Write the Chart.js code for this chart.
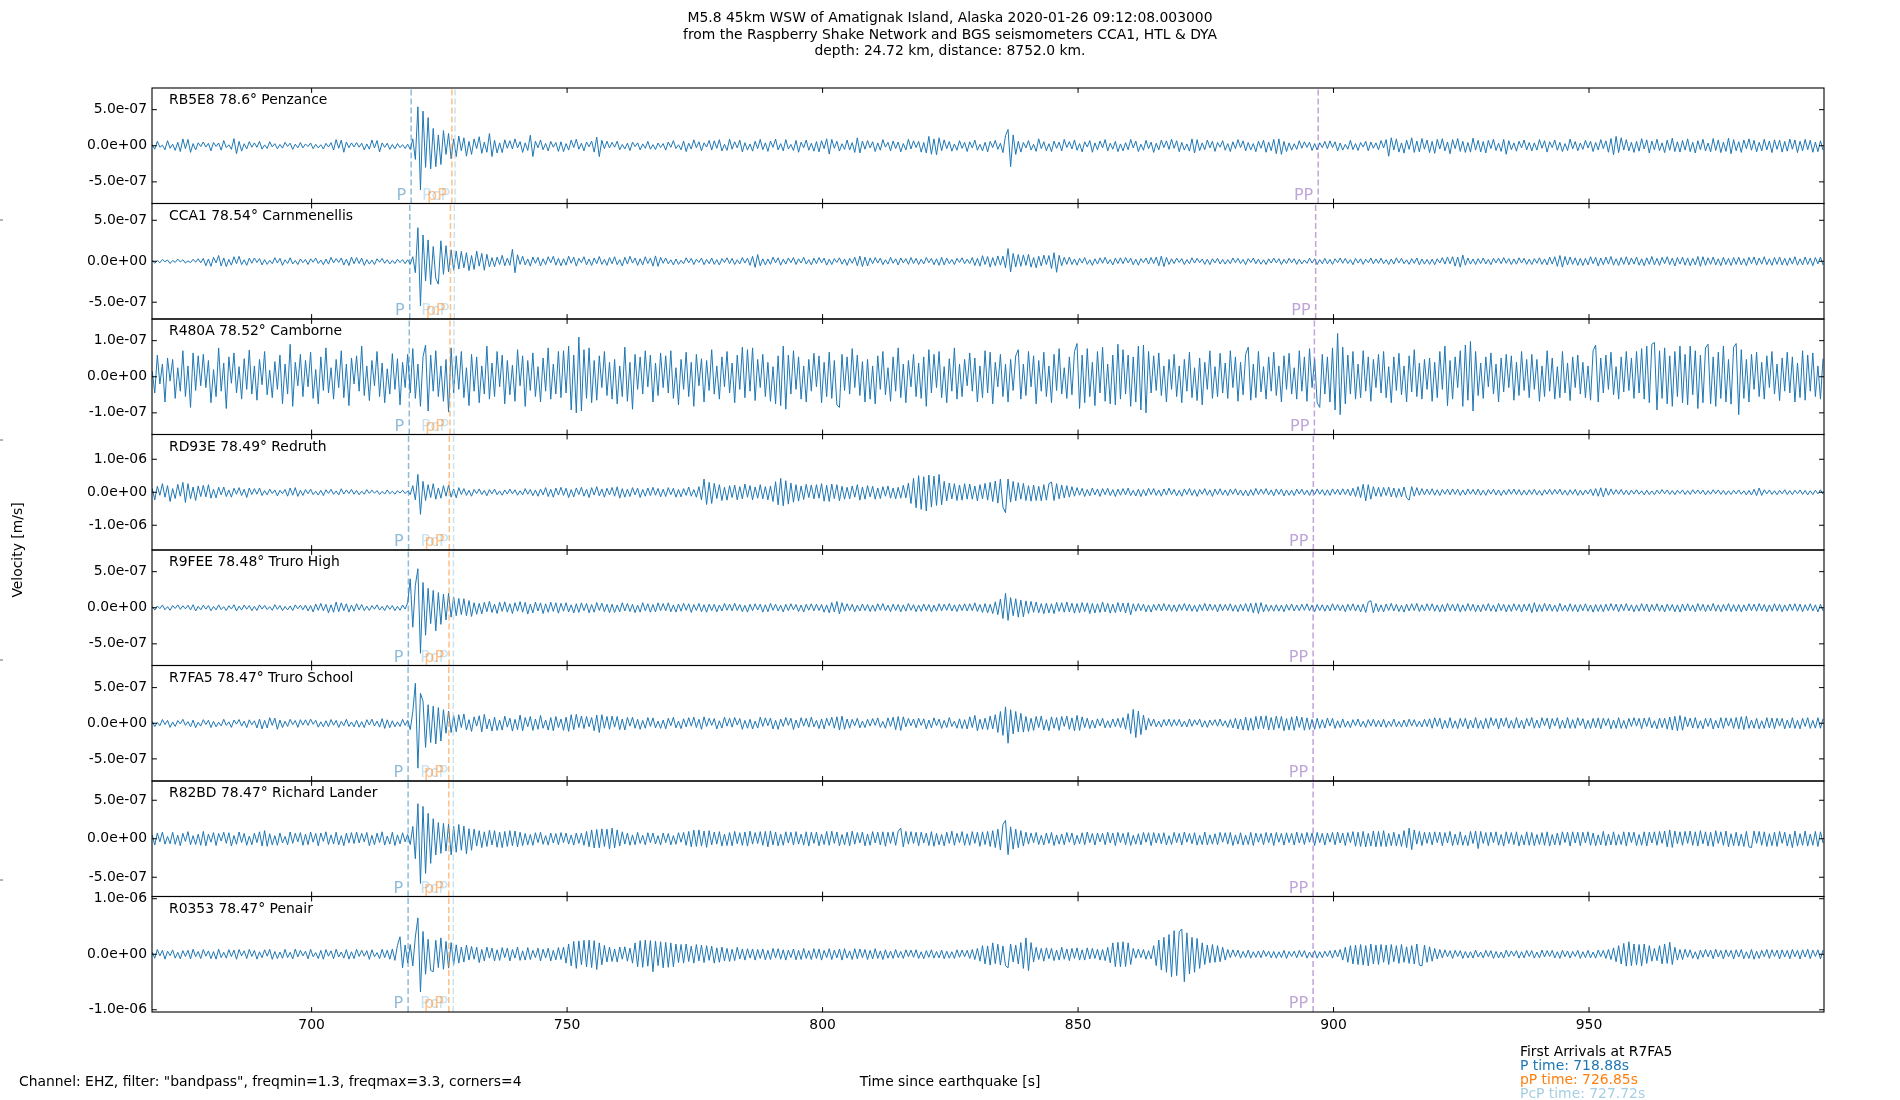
<!DOCTYPE html>
<html>
<head>
<meta charset="utf-8">
<script src="https://cdn.jsdelivr.net/npm/chart.js@4.4.1/dist/chart.umd.min.js"></script>
<style>
html,body{margin:0;padding:0;background:#fff;}
#wrap{position:relative;width:1900px;height:1100px;}
</style>
</head>
<body>
<div id="wrap"><canvas id="c" width="1900" height="1100"></canvas></div>
<script>
// ---------- data ----------
const stations = ['RB5E8 78.6° Penzance','CCA1 78.54° Carnmenellis','R480A 78.52° Camborne','RD93E 78.49° Redruth',
                  'R9FEE 78.48° Truro High','R7FA5 78.47° Truro School','R82BD 78.47° Richard Lander','R0353 78.47° Penair'];
// sampling of the traces: first sample time and step (s)
const t0 = 668.8, dt = 0.5;
// vertical velocity, in nm/s (1e-9 m/s)
const vRB5E8 = [
15,-48,62,-20,8,-55,70,-35,22,-64,48,-80,95,-40,88,-92,30,-58,41,-12,
52,-18,33,-70,45,-10,38,-61,72,-25,14,-50,98,-110,60,-75,28,-44,57,-21,
40,-22,61,-47,12,-38,55,-16,29,-42,18,-33,47,-9,36,-51,22,-28,44,-30,
25,-12,38,-41,20,-30,14,-45,33,-18,42,-60,85,-35,78,-90,52,-28,40,-17,
44,-20,36,-58,25,-47,80,-30,72,-85,40,-22,35,-50,18,-41,30,-26,15,-38,
22,-50,95,-190,540,-610,480,-300,390,-320,240,-290,150,-260,210,-120,170,-180,95,-150,
135,-70,110,-145,60,-120,95,-40,125,-105,50,-90,170,-150,75,-100,40,-95,82,-35,
70,-45,95,-30,58,-92,40,-66,145,-150,62,-28,80,-55,33,-72,60,-20,45,-78,
55,-82,30,-60,78,-25,90,-48,35,-70,52,-15,66,-88,120,-150,75,-40,62,-30,
48,-20,62,-55,18,-44,35,-67,50,-12,41,-58,26,-35,60,-48,15,-52,38,-25,
30,-61,52,-22,70,-38,14,-57,66,-80,35,-45,82,-28,55,-70,40,-18,73,-60,
68,-35,84,-72,20,-64,90,-48,55,-30,78,-85,42,-60,25,-75,62,-40,88,-55,
40,-78,65,-22,92,-58,30,-70,85,-45,18,-66,74,-90,50,-28,80,-62,35,-75,
58,-85,70,-40,96,-115,88,-35,62,-74,28,-50,80,-58,44,-92,110,-100,65,-48,
72,-30,55,-80,40,-62,85,-20,48,-70,66,-38,52,-84,30,-58,90,-45,68,-25,
60,-88,45,-100,130,-118,95,-125,110,-70,82,-40,58,-75,25,-62,70,-35,48,-80,
55,-30,78,-62,20,-70,48,-85,60,-25,74,-50,35,-95,140,225,-290,150,-120,60,
-88,45,-30,72,-60,20,-78,95,-40,55,-68,28,-82,64,-35,50,-72,88,-25,58,
-45,80,-62,30,-85,55,-18,72,-90,40,-55,66,-28,85,-70,35,-48,60,-82,25,
-70,42,-55,88,-30,65,-80,20,-62,75,-40,50,-92,35,-58,78,-25,68,-50,90,
-35,70,-82,48,-60,25,-75,95,-100,85,-68,40,-55,80,-30,62,-78,45,-20,70,
-62,30,-80,55,-40,85,-25,68,-72,45,-58,30,-82,62,-35,75,-90,50,-68,88,
-110,95,-120,60,-80,40,-62,28,-50,70,-35,55,-22,48,-66,30,-58,42,-25,60,
-40,68,-25,55,-72,38,-60,20,-48,75,-55,30,-66,45,-18,62,-70,52,-35,40,
-55,72,-30,85,-145,110,-60,95,-88,40,-102,78,-50,110,-92,65,-85,100,-48,80,
-95,60,-105,88,-45,98,-70,52,-110,85,-40,100,-78,62,-92,45,-88,105,-60,75,
-85,58,-100,75,-40,90,-65,35,-78,88,-118,70,-55,40,-75,62,-30,80,-58,45,
-72,40,-60,85,-35,70,-88,55,-25,78,-62,48,-80,30,-66,92,-45,58,-70,38,
-50,75,-30,62,-80,45,-58,85,-40,68,-90,100,-125,130,-95,110,-60,85,-72,48,
-92,60,-75,98,-45,82,-100,65,-58,90,-70,40,-95,78,-62,105,-80,55,-88,72,
-60,95,-82,48,-100,70,-55,90,-72,38,-85,100,-65,80,-95,50,-78,105,-110,85,
-70,55,-92,80,-40,95,-62,75,-85,48,-72,90,-58,66,-95,82,-50,78,-88,60,
-75,92,-48,80,-95,62,-70,88,-55,75,-90,50,-82,68,-60];
const vCCA1 = [
12,-25,8,-18,22,-6,15,-28,10,-14,26,-9,18,-22,5,-16,24,-12,30,-20,
35,-55,28,-62,48,-20,70,-58,40,-65,22,-48,55,-30,60,-42,18,-50,38,-25,
40,-15,32,-45,20,-38,12,-30,44,-22,35,-50,18,-27,42,-34,10,-40,28,-18,
22,-40,30,-12,38,-28,15,-42,26,-35,48,-20,32,-15,40,-46,25,-52,50,-30,
45,-28,38,-50,20,-35,16,-40,30,-12,34,-25,18,-32,10,-28,24,-15,20,-30,
18,-35,55,-140,410,-545,320,-240,260,-285,180,-210,-280,250,-160,190,-130,140,-110,125,
-95,120,-80,105,-115,70,-100,125,-60,95,-110,85,-70,45,-68,50,-40,72,-55,38,
-50,145,-140,80,-38,62,-45,28,-60,52,-25,48,-58,30,-42,55,-20,60,-48,35,
-55,30,-48,62,-25,50,-60,35,-18,55,-45,28,-52,40,-30,58,-38,22,-50,45,
-30,55,-42,20,-58,48,-35,60,-22,40,-50,30,-45,55,-28,38,-60,65,-62,48,
-25,40,-32,18,-45,28,-38,12,-30,42,-20,35,-40,25,-15,38,-42,22,-30,40,
-38,20,-45,32,-15,42,-28,35,-40,18,-32,45,-22,38,-50,60,-75,82,-55,30,
-45,28,-38,50,-20,42,-48,25,-35,40,-18,45,-40,30,-22,48,-35,20,-44,38,
-30,45,-20,38,-48,25,-40,32,-15,42,-36,28,-50,35,-25,48,-55,62,-65,50,
-58,40,-30,45,-22,38,-42,18,-35,48,-25,30,-46,40,-20,32,-38,45,-28,35,
-40,25,-32,45,-18,35,-42,30,-50,48,-45,38,-30,22,-40,35,-15,42,-30,25,
-28,45,-52,35,-60,68,-40,58,-72,45,-55,65,-48,62,-80,155,-130,95,-70,82,
-62,78,-50,85,-72,45,-80,62,-58,75,-40,70,-90,105,-135,72,-55,48,-38,52,
-40,28,-48,35,-22,45,-38,18,-50,30,-35,42,-25,48,-32,20,-45,38,-28,42,
-30,45,-20,38,-42,25,-48,32,-18,40,-35,45,-28,50,-55,62,-65,48,-40,30,
-28,38,-15,32,-40,20,-30,42,-22,35,-18,28,-38,25,-42,30,-20,36,-32,22,
-35,20,-30,40,-18,35,-28,22,-42,32,-15,38,-30,25,-36,18,-40,30,-22,38,
-20,32,-40,22,-28,36,-18,30,-38,25,-32,15,-26,38,-22,30,-40,20,-30,35,
-32,22,-38,30,-18,40,-25,35,-28,20,-42,35,-22,30,-38,25,-18,40,-32,28,
-25,38,-30,20,-40,28,-35,42,-22,36,-30,18,-38,32,-26,40,-44,28,-35,22,
-38,25,-42,30,-22,45,-35,50,-30,55,-60,52,-72,75,-48,40,-35,28,-40,32,
-28,40,-32,22,-42,35,-20,38,-30,45,-25,32,-40,28,-36,42,-22,35,-38,25,
-40,32,-25,42,-38,28,-45,50,-35,55,-62,70,-72,58,-45,52,-38,42,-50,35,
-52,35,-45,55,-30,48,-58,40,-42,50,-35,58,-48,30,-52,45,-38,55,-44,40,
-35,52,-48,30,-55,42,-38,58,-45,35,-50,48,-30,55,-42,38,-58,45,-35,50,
-48,40,-55,35,-45,58,-62,55,-50,42,-38,52,-45,30,-55,48,-40,35,-52,45,
-38,50,-45,32,-55,48,-30,52,-48,40,-35,55,-42,30,-50,45,-38,52,-45,35,
-50,42,-35,55,-48,30,-45,52,-40,38,-55,45,-32,50,-45];
const vR480A = [
15,-45,60,-20,35,-70,52,-12,48,-60,25,-40,72,-55,30,-85,66,-38,58,-25,
62,-30,45,-72,20,-55,80,-40,38,-88,55,-18,66,-45,28,-62,50,-35,74,-48,
30,-65,48,-22,70,-50,18,-58,42,-35,60,-75,35,-48,90,-82,40,-25,62,-55,
45,-28,68,-60,20,-75,55,-38,80,-45,25,-62,48,-30,72,-58,35,-80,52,-20,
58,-40,85,-52,30,-66,45,-25,70,-55,38,-72,22,-48,64,-35,50,-78,40,-30,
62,-45,78,-60,35,-82,55,88,-95,60,-40,72,-55,30,-68,48,-98,80,-45,58,
-35,70,-58,25,-80,62,-40,55,-72,30,-48,85,-62,38,-55,70,-28,60,-75,45,
-50,32,-68,75,-25,58,-82,45,-38,66,-55,28,-70,52,-40,80,-62,35,-48,70,
-58,72,-45,85,-92,60,-100,110,-95,75,-60,80,-72,45,-65,58,-30,70,-52,40,
-62,48,-75,30,-55,82,-68,40,-90,62,-35,55,-48,72,-28,60,-70,38,-52,66,
-30,58,-45,72,-60,25,-78,48,-35,68,-55,40,-82,62,-25,50,-70,45,-38,75,
-48,30,-62,55,-28,70,-45,38,-72,60,-35,82,-58,75,-40,80,-66,48,-30,62,
-55,40,-68,28,-75,58,-80,85,-90,60,-48,72,-35,55,-62,30,-70,48,-40,65,
-28,58,-72,40,-55,68,-60,45,-78,-85,62,-38,55,-48,78,-30,60,-52,42,-70,
48,-62,30,-75,58,-35,70,-50,25,-68,55,-40,80,-58,35,-72,45,-28,62,-55,
38,-60,55,-82,75,-45,62,-30,70,-58,28,-72,50,-40,80,-62,35,-55,48,-25,
66,-40,52,-70,30,-58,72,-45,68,-75,40,-28,62,-55,35,-70,48,-38,58,75,
-62,35,-52,70,-28,58,-75,45,-40,68,-55,30,-72,62,-38,78,-48,25,-60,55,
-50,70,92,-88,60,-72,78,-55,40,-80,70,-45,82,-68,35,-75,60,-78,90,-62,
75,-48,60,-82,55,-70,85,-92,88,-100,70,-45,58,-38,66,-52,30,-70,48,-35,
62,-55,30,-72,48,-40,68,-58,25,-66,52,-78,40,-35,72,-60,28,-55,65,-45,
38,-60,72,-30,55,-68,40,-50,62,82,-65,35,-58,70,-42,28,-62,55,-40,68,
-52,30,-70,58,-35,65,-48,25,-62,72,-40,55,-68,78,-30,50,-72,-85,62,-48,
55,-70,80,-92,120,-105,82,-75,60,-48,70,-62,35,-58,72,-40,55,-68,48,-30,
62,-45,70,-58,28,-72,55,-38,65,-50,30,-70,58,-42,75,-55,38,-62,48,-35,
52,-68,40,-58,70,-35,85,-80,45,-62,55,-30,72,-82,88,-65,98,-95,70,-52,
38,-60,55,-28,66,-48,35,-70,52,-42,62,-30,58,-65,40,-52,70,-38,48,-58,
62,-35,48,-68,30,-55,72,-40,52,-62,28,-58,70,-45,38,-66,55,-30,60,-48,
40,-58,30,-65,72,88,-70,52,-45,60,-35,68,-50,28,-62,55,-42,70,-38,52,
-60,70,-45,78,-62,85,-72,90,95,-92,72,-60,80,-75,58,-82,70,-55,85,-72,
62,-78,85,-50,72,-88,60,-72,80,90,-75,55,-82,68,-60,85,-70,48,-76,82,
92,-105,75,-60,48,-70,62,-35,68,-55,40,-62,58,-30,70,-48,35,-66,52,-40,
68,-45,55,-70,38,-58,72,-65,60,-40,66,-55,30,-62,50];
const vRD93E = [
120,-230,180,-90,260,-150,200,-280,110,-190,240,-120,300,-310,260,-200,160,-250,190,-130,
210,-140,230,-180,90,-170,150,-80,160,-130,70,-150,120,-60,140,-100,90,-160,130,-70,
110,-60,130,-100,50,-80,95,-40,70,-110,60,-45,85,-120,130,-90,140,-125,60,-95,
80,-45,95,-70,30,-85,60,-100,75,-35,90,-65,40,-80,105,-55,70,-40,85,-60,
55,-75,35,-60,80,-40,65,-30,50,-70,25,-55,70,-45,30,-60,45,-25,60,-40,
40,-70,200,-230,540,-670,330,-250,230,-160,260,-210,130,-180,200,-120,210,-150,100,-170,
140,-70,110,-95,60,-120,85,-40,100,-70,55,-105,80,-50,95,-75,40,-90,70,-55,
95,-50,75,-90,45,-80,110,-60,85,-105,70,-120,95,-80,140,-130,90,-150,125,-85,
150,-95,120,-160,80,-140,130,-70,150,-120,90,-160,140,-85,170,-110,100,-150,120,-80,
145,-120,165,-180,110,-150,95,-130,140,-80,125,-160,85,-120,130,-100,150,-90,115,-140,
90,-130,140,-75,120,-150,85,-140,110,-95,160,-120,80,-150,170,-230,400,-370,300,-340,
270,-190,230,-250,150,-240,200,-160,220,-230,170,-200,250,-150,200,-230,160,-180,230,-200,
170,-230,190,-280,320,-380,420,-410,350,-360,280,-300,230,-270,190,-220,240,-160,220,-200,
230,-180,260,-270,210,-280,250,-190,230,-260,180,-210,150,-200,190,-150,230,-240,160,-210,
200,-140,180,-210,130,-190,170,-120,190,-180,130,-200,150,-180,210,-170,280,-340,420,-470,
500,-520,470,-570,520,-450,490,-400,540,-380,330,-260,280,-200,260,-250,220,-240,260,-210,
250,-210,190,-260,230,-200,270,-240,300,-280,340,-330,400,-450,-620,400,-300,330,-260,290,
-210,270,-250,200,-270,220,-250,180,-260,230,-240,260,310,-250,260,-200,220,-170,200,-150,
170,-120,140,-90,120,-130,85,-110,130,-80,100,-125,110,-75,120,-100,80,-130,95,-90,
110,-80,125,-100,60,-115,95,-130,80,-105,120,-70,110,-95,70,-120,100,-85,125,-70,
85,-110,60,-120,100,-70,115,-95,75,-125,85,-60,110,-90,70,-125,95,-70,105,-85,
70,-100,90,-60,105,-85,70,-100,60,-110,80,-95,115,-70,95,-60,110,-80,70,-105,
100,-65,95,-110,70,-90,60,-100,95,-55,90,-80,60,-95,85,-70,100,-60,80,-95,
75,-95,100,-60,90,-80,105,-70,95,-110,120,-130,170,-160,240,-260,230,-210,170,-120,
150,-130,145,-100,155,-140,130,-160,110,-140,160,-170,-240,170,-120,140,-90,110,-80,95,
-70,105,-90,75,-100,85,-60,95,-80,100,-65,90,-95,70,-85,100,-60,85,-75,95,
-90,60,-95,80,-55,90,-85,70,-100,65,-75,90,-60,95,-70,80,-90,60,-85,75,
-65,90,-80,55,-95,75,-60,90,-70,85,-55,95,-80,60,-90,75,-65,85,-95,60,
-85,70,-55,95,-100,110,-120,135,-140,120,-90,100,-70,80,-60,85,-75,60,-80,65,
-55,75,-60,45,-80,60,-70,40,-75,65,-50,80,-45,70,-65,50,-75,60,-40,70,
-70,50,-65,75,-45,70,-55,65,-80,50,-60,75,-45,70,-65,55,-75,45,-70,60,
-50,70,-60,45,-80,55,-85,90,-100,130,-95,75,-50,70,-65,45,-75,60,-50,75,
-65,50,-75,60,-45,70,-65,55,-80,45,-70,60,-50,75,-60];
const vR9FEE = [
18,-32,25,-12,38,-28,15,-35,30,-10,40,-22,28,-15,35,-30,42,-45,20,-28,
35,-20,30,-42,18,-30,40,-25,15,-38,28,-18,42,-45,22,-32,38,-20,30,-40,
20,-38,40,-18,32,-25,15,-35,42,-22,30,-40,18,-30,25,-38,40,-15,35,-28,
38,-45,30,-58,52,-35,60,-42,48,-70,40,-62,80,-55,68,-40,55,-60,38,-48,
55,-30,45,-40,22,-38,30,-20,40,-32,18,-38,35,-22,30,-40,20,-35,38,-18,
70,400,-270,310,540,-630,350,-380,270,-220,240,-320,210,-230,190,-170,200,-130,150,-110,
130,-95,125,-110,100,-120,70,-90,60,-85,75,-55,90,-65,50,-80,75,-50,82,-60,
55,-80,70,-48,85,-62,75,-88,50,-72,78,-45,68,-80,55,-62,78,-50,70,-75,
62,-48,70,-58,40,-72,55,-65,68,-40,60,-70,45,-62,72,-38,65,-55,48,-68,
50,-65,38,-58,70,-45,60,-52,48,-68,35,-60,70,-42,55,-62,45,-58,68,-40,
58,-42,68,-55,40,-60,52,-48,62,-35,55,-65,45,-38,60,-55,42,-62,50,-40,
48,-58,38,-45,60,-35,50,-42,62,-38,45,-55,35,-60,48,-40,55,-32,50,-60,
42,-55,60,-35,50,-45,35,-58,48,-40,55,-30,45,-52,38,-60,48,-35,55,-42,
50,-38,45,-62,40,-70,72,-58,88,-85,70,-48,55,-40,48,-55,35,-45,52,-38,
45,-52,38,-48,55,-35,58,-42,35,-55,50,-38,45,-58,40,-48,60,-35,42,-55,
38,-50,52,-40,45,-60,35,-48,55,-42,50,-35,58,-45,40,-52,48,-38,55,-45,
55,-40,68,-52,45,-65,58,-72,48,-80,82,-95,120,-150,200,-175,140,-110,125,-130,
105,-125,95,-80,88,-62,80,-70,58,-82,65,-72,55,-80,75,-50,70,-62,80,-58,
62,-75,58,-68,72,-55,68,-80,60,-72,55,-65,80,-58,62,-75,50,-68,72,-55,
65,-72,68,-98,55,-48,58,-40,50,-55,38,-60,45,-35,52,-45,58,-40,45,-50,
40,-55,48,-35,58,-42,50,-48,35,-55,45,-38,60,-45,52,-35,42,-58,50,-40,
45,-38,55,-48,40,-55,48,-42,58,-52,62,-70,68,-80,72,-58,45,-50,35,-48,
42,-48,38,-55,45,-35,52,-45,38,-42,48,-35,55,-42,38,-55,45,-38,42,-48,
38,-45,55,-35,45,-42,40,-55,48,-38,55,-45,40,-58,50,-65,80,98,-72,60,
-55,40,-58,52,-38,60,-45,48,-52,35,-60,50,-45,55,-38,60,-52,40,-45,55,
-40,55,-48,38,-58,45,-52,60,-38,50,-45,55,-60,40,-48,58,-42,48,-55,38,
-55,45,-40,58,-48,38,-55,60,-40,48,-58,42,-50,55,-38,45,-60,50,-42,55,
-72,70,-58,45,-50,60,-42,52,-48,38,-55,60,-45,35,-50,55,-48,42,-58,45,
-40,55,-48,38,-60,45,-50,42,-55,50,-45,58,-38,50,-55,48,-40,58,-45,40,
-55,40,-48,58,-42,52,-58,45,-40,55,-48,38,-58,50,-40,45,-55,40,-60,52,
-42,55,-45,38,-55,58,-40,48,-52,40,-45,60,-48,40,-55,45,-40,58,-52,42,
-50,45,-58,40,-45,55,-40,50,-48,58,-42,45,-55,40,-50,55,-42,48,-55,40,
-45,52,-38,55,-48,50,-55,42,-40,55,-45,40,-58,48,-42];
const vR7FA5 = [
25,-48,12,-35,52,-20,40,-58,18,-45,38,-10,55,-30,22,-50,44,-62,15,-40,
50,-18,42,-60,28,-50,15,-38,55,-30,20,-58,45,-12,52,-40,30,-62,48,-22,
35,-66,58,-80,40,-65,78,-30,72,-85,45,-60,28,-45,55,-20,38,-58,50,-25,
48,-30,58,-15,42,-55,20,-50,35,-48,52,-28,40,-58,25,-35,55,-45,18,-50,
40,-55,22,-60,50,-25,58,-40,30,-55,65,-72,48,-62,35,-50,20,-45,55,-30,
40,-90,160,560,-630,420,310,-340,260,-270,240,-290,220,-250,190,-140,170,-130,110,-120,
120,-60,130,-95,50,-115,90,-40,105,-120,125,-80,60,-110,85,-100,45,-95,100,-55,
70,-110,55,-90,115,-105,80,-50,95,-100,60,-85,110,-70,45,-95,80,-105,95,-60,
60,-100,85,-115,120,-90,125,-60,100,-75,95,-50,80,-105,115,-130,120,-70,95,-85,
100,-55,95,-90,60,-95,80,-40,85,-70,55,-85,40,-70,80,-45,75,-65,30,-72,
45,-78,70,-35,82,-65,30,-75,62,-50,78,-40,85,-60,55,-85,90,-45,70,-30,
65,-80,35,-68,85,-40,70,-55,80,-25,65,-85,40,-70,55,-80,30,-68,85,-45,
75,-35,72,-80,40,-85,60,-45,80,-30,70,-88,45,-65,78,-40,68,-55,85,-50,
40,-75,60,-80,70,-35,85,-70,90,-95,100,-85,60,-70,55,-35,70,-65,30,-60,
55,-40,65,-30,75,-58,25,-70,75,-45,85,-90,95,-100,90,-50,68,-35,60,-62,
70,-30,62,-80,45,-65,75,-35,58,-72,40,-60,80,-45,30,-70,62,-75,50,-80,
90,-60,110,-105,55,-85,70,-90,100,-80,120,-130,165,-170,230,-280,190,-150,165,-120,
140,-125,95,-115,70,-100,95,-60,100,-95,50,-105,90,-70,80,-100,95,-45,100,-85,
75,-105,110,-100,90,-60,70,-75,45,-68,62,-40,70,-65,35,-62,60,-48,68,-60,
80,-85,135,-145,195,-200,170,-160,115,-95,70,-40,58,-50,30,-55,52,-38,58,-45,
50,-35,55,-50,30,-52,60,-42,48,-25,58,-55,35,-58,45,-30,50,-42,60,-40,
35,-58,52,-65,70,-80,60,-95,85,-100,70,-98,95,-80,100,-75,105,-95,80,-90,
100,-70,95,-105,65,-95,90,-100,98,-60,85,-98,75,-88,55,-85,70,-72,50,-68,
72,-40,68,-72,35,-62,60,-55,30,-62,50,-35,60,-52,28,-58,52,-40,55,-48,
40,-52,55,-58,30,-45,58,-50,25,-55,45,-52,58,-38,50,-48,30,-52,55,-45,
62,-70,78,-45,72,-80,40,-68,78,-70,35,-75,68,-48,70,-78,45,-65,80,-72,
40,-78,68,-72,80,-35,65,-80,72,-45,78,-70,38,-72,80,-65,42,-78,68,-40,
80,-70,45,-68,78,-35,72,-80,66,-40,78,-75,42,-68,80,-72,50,-70,78,-35,
65,-80,40,-72,68,-62,75,-78,70,-35,68,-80,45,-70,78,-72,40,-75,68,-45,
78,-40,68,-78,72,-45,80,-65,35,-78,72,-60,70,-82,88,-95,98,-105,108,-98,
90,-50,72,-68,80,-72,35,-78,68,-45,72,-80,40,-68,78,-72,75,-40,68,-72,
80,-78,92,-88,98,-72,45,-70,68,-78,35,-72,78,-66,72,-78,70,-40,68,-78,
45,-68,78,-72,40,-78,68,-45,78,-72,40,-68,78,-70,62];
const vR82BD = [
50,-82,75,-40,88,-70,30,-65,85,-72,45,-90,70,-35,92,-78,40,-75,60,-85,
95,-92,60,-45,80,-88,70,-30,85,-60,78,-95,42,-72,88,-50,70,-85,35,-78,
72,-50,90,-95,105,-98,65,-80,40,-85,75,-55,30,-78,88,-60,72,-40,80,-85,
60,-78,88,-45,70,-92,75,-35,90,-75,50,-68,85,-80,40,-90,72,-55,80,-62,
88,-55,70,-40,82,-90,45,-78,72,-50,90,-82,35,-70,85,-88,50,-65,78,-40,
55,-75,160,-260,455,-580,420,-450,330,-320,260,-210,210,-190,200,-160,190,-210,160,-175,
185,-150,165,-195,130,-150,125,-95,105,-115,90,-100,110,-80,105,-110,85,-115,95,-100,
105,-90,100,-105,85,-90,70,-80,55,-85,78,-50,85,-72,40,-82,75,-55,68,-78,
80,-50,75,-70,48,-82,75,-60,72,-85,95,-105,115,-120,120,-118,128,-100,125,-132,
138,-118,115,-95,90,-70,75,-85,50,-78,82,-60,45,-80,78,-50,75,-68,40,-82,
75,-50,68,-80,40,-72,78,-45,82,-85,95,-105,112,-100,115,-95,100,-112,105,-80,
88,-70,92,-95,60,-88,80,-92,95,-65,78,-85,88,-95,98,-70,80,-62,92,-85,
95,-105,102,-80,88,-92,60,-85,90,-55,85,-80,92,-70,60,-82,90,-95,85,-60,
88,-92,60,-75,95,-85,98,-60,88,-92,55,-80,85,-92,98,-70,80,-55,88,-92,
62,-85,92,-55,85,-80,90,-98,85,-60,90,-85,98,138,-105,95,-70,92,-60,85,
-92,85,-55,75,-88,92,-98,70,-80,55,-92,85,-60,98,-85,72,-50,92,-85,65,
-85,92,-60,85,-98,90,-75,95,-100,105,-115,125,-145,185,238,-205,155,-135,125,-115,
105,-95,85,-70,75,-50,82,-75,45,-80,75,-60,82,-88,50,-70,62,-78,82,-45,
75,-82,45,-65,78,-80,88,-50,70,-82,75,-40,70,-78,85,-55,75,-88,82,-50,
70,-78,82,-88,45,-70,65,-80,82,-45,78,-88,80,-55,70,-65,78,-82,40,-75,
82,-50,70,-82,88,-45,70,-65,78,-82,45,-75,88,-80,50,-70,65,-78,82,-45,
78,-70,82,-88,50,-70,78,-82,45,-75,82,-88,75,-45,65,-78,82,-50,75,-88,
82,-45,70,-82,78,-50,70,-82,88,-55,70,-75,82,-45,75,-88,82,-50,70,-82,
75,-45,82,-78,88,-55,75,-88,80,-50,92,-98,85,-100,95,-105,70,-95,100,-105,
95,-100,105,-102,70,-90,85,-95,60,-100,105,-115,138,-142,115,-70,95,-88,85,-60,
85,-80,90,-50,85,-90,80,-55,95,-90,60,-80,90,-85,45,-90,95,-62,100,-128,
95,-60,80,-90,85,-50,90,-85,55,-95,90,-62,80,-75,90,-95,50,-80,90,-85,
80,-90,55,-75,80,-85,90,-95,55,-80,75,-85,90,-50,85,-95,90,-55,85,-90,
85,-55,90,-85,75,-90,50,-80,95,-90,60,-80,90,-85,55,-75,90,-95,85,-50,
85,-90,55,-85,90,-95,85,-55,90,-85,95,-60,100,-105,115,-112,100,-65,90,-85,
95,-60,100,-85,90,-95,105,-65,90,-95,85,-100,105,-60,90,-85,100,-105,65,-90,
85,-95,60,-100,95,-105,-115,100,-60,95,-85,90,-100,65,-90,85,-100,95,-60,85,
-95,60,-115,100,-95,65,-85,100,-95,60,-85,95,-100,90,-55];
const vR0353 = [
40,-72,85,-30,70,-88,55,-25,78,-70,35,-82,65,-40,72,-85,90,-45,50,-78,
85,-35,60,-80,48,-88,92,-60,35,-70,82,-42,75,-90,85,-30,62,-78,88,-40,
70,-88,45,-62,80,-35,88,-92,50,-78,40,-72,88,-60,35,-85,92,-48,72,-30,
55,-82,88,-45,30,-78,70,-90,85,-35,62,-80,90,-50,40,-70,82,-88,45,-78,
88,-40,72,-35,65,-92,80,-45,30,-78,88,-60,72,-90,95,-110,160,315,-245,165,
-155,175,-210,310,655,-680,410,-360,270,-290,-315,250,-240,295,-270,230,-250,210,-190,170,
-160,130,-140,165,-105,140,-90,130,-150,85,-120,130,-70,110,-120,80,-110,120,-60,110,
-120,85,-70,130,-110,60,-105,120,-95,70,-60,110,-120,90,-65,110,-120,70,-100,120,
-95,130,-160,185,-210,230,-255,240,-190,250,-230,255,-240,245,-275,205,-190,160,-140,130,
-130,95,-140,130,-90,135,-125,110,-160,205,-225,245,-235,255,-215,245,-315,235,-205,225,
-245,215,-235,205,-225,185,-150,175,-160,185,-130,145,-160,175,-120,165,-150,155,-110,145,
-160,115,-145,130,-120,105,-130,90,-115,125,-85,95,-105,100,-70,95,-105,85,-75,95,
-100,70,-95,105,-65,100,-90,80,-105,75,-60,95,-100,70,-95,105,-75,65,-95,100,
-75,95,-105,70,-60,100,-95,75,-65,95,-105,100,-70,60,-95,100,-80,95,-60,85,
-95,70,-85,100,-75,60,-95,80,-70,55,-75,85,-60,50,-75,80,-45,75,-55,80,
-75,45,-80,65,-55,80,-70,50,-65,72,-80,55,-70,45,-75,80,-55,75,-45,70,
-75,85,-95,105,-125,155,-175,150,-195,205,-170,180,-195,150,-205,-245,185,-140,165,-175,
210,-255,295,-295,210,-140,125,-95,105,-125,115,-80,105,-115,75,-105,125,-90,95,-115,
105,-75,115,-105,80,-105,115,-85,105,-75,90,-105,85,-115,125,-155,205,-225,215,-225,
225,-220,205,-185,105,-70,95,-60,85,-90,65,-85,155,-205,255,-285,305,-325,355,-405,
425,-385,405,455,-495,385,-355,305,-325,285,-255,205,-185,165,-155,175,-145,155,-135,125,
-105,85,-60,80,-45,75,-70,50,-58,75,-70,45,-55,60,-62,70,-40,55,-65,50,
-70,45,-60,70,-75,50,-40,55,-65,70,-45,65,-70,40,-55,65,-70,45,-62,55,
-40,65,-70,75,-50,85,-105,125,-145,155,-175,165,-185,175,-195,155,-210,185,-175,165,
-185,175,-145,165,-185,175,-135,155,-165,175,-145,135,-165,155,-175,185,-195,-210,165,-145,
135,-125,105,-85,85,-65,80,-45,65,-75,70,-40,65,-75,50,-65,45,-70,75,-50,
40,-65,70,-45,65,-75,50,-65,40,-70,75,-45,60,-35,65,-70,45,-65,70,-40,
65,-70,40,-65,75,-50,65,-40,70,-65,45,-75,70,-45,60,-70,50,-40,70,-75,
45,-60,70,-65,40,-70,75,-45,70,-75,85,-95,115,-135,155,-175,195,-215,225,-205,
185,-195,175,-210,185,-165,155,-125,105,-115,155,-175,185,-165,215,-185,125,-105,85,-95,
90,-55,80,-75,45,-90,75,-55,85,-45,75,-80,90,-50,70,-85,80,-45,70,-85,
80,-50,85,-80,45,-75,85,-90,55,-75,70,-45,85,-75,80,-40,75,-85,80,-50,
70,-80,85,-45,70,-85,80,-50,90,-80,75,-40,80,-85,75];
const traces = [vRB5E8, vCCA1, vR480A, vRD93E, vR9FEE, vR7FA5, vR82BD, vR0353];

// axis limits (m/s) and y tick steps per panel, x ticks (s)
const yLimits = [8.0e-7, 7.05e-7, 1.6e-7, 1.75e-6, 8.0e-7, 8.1e-7, 7.5e-7, 1.04e-6];
const yTickSteps = [5e-7, 5e-7, 1e-7, 1e-6, 5e-7, 5e-7, 5e-7, 1e-6];
const xRange = [668.76, 995.99];
const xTicks = [700, 750, 800, 850, 900, 950];

// predicted phase arrival times per station (s)
const pTimes   = [719.48, 719.20, 719.11, 718.97, 718.93, 718.88, 718.88, 718.88];
const pPTimes  = [727.45, 727.17, 727.08, 726.94, 726.90, 726.85, 726.85, 726.85];
const pcpTimes = [728.07, 727.92, 727.87, 727.78, 727.75, 727.72, 727.72, 727.72];
const ppTimes  = [897.00, 896.50, 896.25, 896.05, 896.00, 896.00, 896.00, 896.00];

const titleLines = ['M5.8 45km WSW of Amatignak Island, Alaska 2020-01-26 09:12:08.003000',
                    'from the Raspberry Shake Network and BGS seismometers CCA1, HTL & DYA',
                    'depth: 24.72 km, distance: 8752.0 km.'];
const arrivalLines = ['First Arrivals at R7FA5', 'P time: 718.88s', 'pP time: 726.85s', 'PcP time: 727.72s'];

// ---------- styling ----------
const FONT = '"DejaVu Sans", "Liberation Sans", sans-serif';
const traceColor = '#1f77b4';
const phaseStyles = {
  P:   {line: 'rgba(31,119,180,0.5)',  text: 'rgba(31,119,180,0.5)'},
  pP:  {line: 'rgba(255,127,14,0.5)',  text: 'rgba(255,127,14,0.5)'},
  PcP: {line: 'rgba(166,206,227,0.6)', text: 'rgba(166,206,227,0.6)'},
  PP:  {line: 'rgba(148,103,189,0.6)', text: 'rgba(148,103,189,0.6)'}
};
const arrivalColors = ['#000000', '#1f77b4', '#ff7f0e', '#a6cee3'];

function fmtExp(v) {
  if (Math.abs(v) < 1e-15) return '0.0e+00';
  const parts = v.toExponential(1).split('e');
  const e = parseInt(parts[1], 10);
  return parts[0] + 'e' + (e < 0 ? '-' : '+') + String(Math.abs(e)).padStart(2, '0');
}

// ---------- datasets ----------
const datasets = [];
const phaseSets = [['P', pTimes], ['pP', pPTimes], ['PcP', pcpTimes], ['PP', ppTimes]];
for (let k = 0; k < 8; k++) {
  const yId = 'y' + (k + 1);
  const lim = yLimits[k];
  for (const [name, times] of phaseSets) {
    datasets.push({
      label: name + ' ' + stations[k],
      data: [{x: times[k], y: -lim}, {x: times[k], y: lim}],
      yAxisID: yId, borderColor: phaseStyles[name].line, borderWidth: 1.5,
      borderDash: [6, 3], pointRadius: 0, order: 0
    });
  }
  datasets.push({
    label: stations[k],
    data: traces[k].map((v, i) => ({x: t0 + i * dt, y: v * 1e-9})),
    yAxisID: yId, borderColor: traceColor, borderWidth: 1, pointRadius: 0,
    borderJoinStyle: 'round', tension: 0, order: 1
  });
}

// ---------- scales ----------
const scales = {
  x: {
    type: 'linear', position: 'bottom', min: xRange[0], max: xRange[1],
    grid: {display: false, drawTicks: false}, border: {display: false},
    ticks: {font: {family: FONT, size: 13.9}, color: '#000', padding: 5, maxRotation: 0, autoSkip: false,
            callback: v => String(v)},
    afterBuildTicks: s => { s.ticks = xTicks.map(v => ({value: v})); },
    afterFit: s => { s.height = 88; }
  }
};
for (let k = 7; k >= 0; k--) {
  const step = yTickSteps[k], lim = yLimits[k];
  scales['y' + (k + 1)] = {
    type: 'linear', position: 'left', stack: 'panels', stackWeight: 1, offset: false,
    min: -lim, max: lim,
    grid: {display: false, drawTicks: false}, border: {display: false},
    ticks: {font: {family: FONT, size: 13.9}, color: '#000', padding: 5, autoSkip: false,
            callback: v => fmtExp(v)},
    afterBuildTicks: s => { s.ticks = [{value: -step}, {value: 0}, {value: step}]; },
    afterFit: s => { s.width = 152; }
  };
}

// ---------- decorations (frames, inward ticks, texts) ----------
const decor = {
  id: 'decor',
  afterDraw(chart) {
    const ctx = chart.ctx, ca = chart.chartArea, xs = chart.scales.x;
    ctx.save();
    const seg = (x1, y1, x2, y2) => { ctx.beginPath(); ctx.moveTo(x1, y1); ctx.lineTo(x2, y2); ctx.stroke(); };
    for (let k = 0; k < 8; k++) {
      const ys = chart.scales['y' + (k + 1)];
      ctx.strokeStyle = '#000'; ctx.lineWidth = 1.1;
      ctx.strokeRect(ca.left, ys.top, ca.right - ca.left, ys.bottom - ys.top);
      ctx.lineWidth = 1;
      for (const v of xTicks) {
        const px = xs.getPixelForValue(v);
        seg(px, ys.bottom, px, ys.bottom - 4.9);
        seg(px, ys.top, px, ys.top + 4.9);
      }
      for (const tk of ys.ticks) {
        const py = ys.getPixelForValue(tk.value);
        seg(ca.left, py, ca.left + 4.9, py);
        seg(ca.right, py, ca.right - 4.9, py);
      }
      // station label
      ctx.fillStyle = '#000'; ctx.font = '13.9px ' + FONT; ctx.textAlign = 'left'; ctx.textBaseline = 'alphabetic';
      ctx.fillText(stations[k], ca.left + 17, ys.top + 16);
      // phase labels
      ctx.font = '16px ' + FONT; ctx.textAlign = 'right';
      for (const [name, times] of [['PcP', pcpTimes], ['pP', pPTimes], ['P', pTimes], ['PP', ppTimes]]) {
        ctx.fillStyle = phaseStyles[name].text;
        ctx.fillText(name, xs.getPixelForValue(times[k]) - 5, ys.bottom - 4);
      }
    }
    // figure texts
    ctx.fillStyle = '#000'; ctx.font = '13.9px ' + FONT; ctx.textAlign = 'center';
    titleLines.forEach((s, i) => ctx.fillText(s, 950, 22 + i * 16.5));
    ctx.textAlign = 'left';
    ctx.fillText('Channel: EHZ, filter: "bandpass", freqmin=1.3, freqmax=3.3, corners=4', 19, 1086);
    ctx.textAlign = 'center';
    ctx.fillText('Time since earthquake [s]', 950, 1086);
    ctx.textAlign = 'left';
    arrivalLines.forEach((s, i) => { ctx.fillStyle = arrivalColors[i]; ctx.fillText(s, 1520, 1056 + i * 13.9); });
    // y label
    ctx.save(); ctx.fillStyle = '#000'; ctx.translate(18, 550); ctx.rotate(-Math.PI / 2);
    ctx.textAlign = 'center'; ctx.textBaseline = 'middle'; ctx.fillText('Velocity [m/s]', 0, 0); ctx.restore();
    // small marks of the hidden figure-wide axis
    ctx.strokeStyle = '#444'; ctx.lineWidth = 0.8;
    for (const y of [220, 440, 660, 880]) seg(0, y, 3, y);
    ctx.restore();
  }
};

new Chart(document.getElementById('c'), {
  type: 'line',
  data: {datasets},
  options: {
    responsive: false, animation: false, devicePixelRatio: 1, parsing: false, normalized: true,
    events: [],
    layout: {padding: {left: 0, right: 76, top: 88, bottom: 0}},
    plugins: {legend: {display: false}, tooltip: {enabled: false}, title: {display: false}},
    scales
  },
  plugins: [decor]
});
</script>
</body>
</html>
